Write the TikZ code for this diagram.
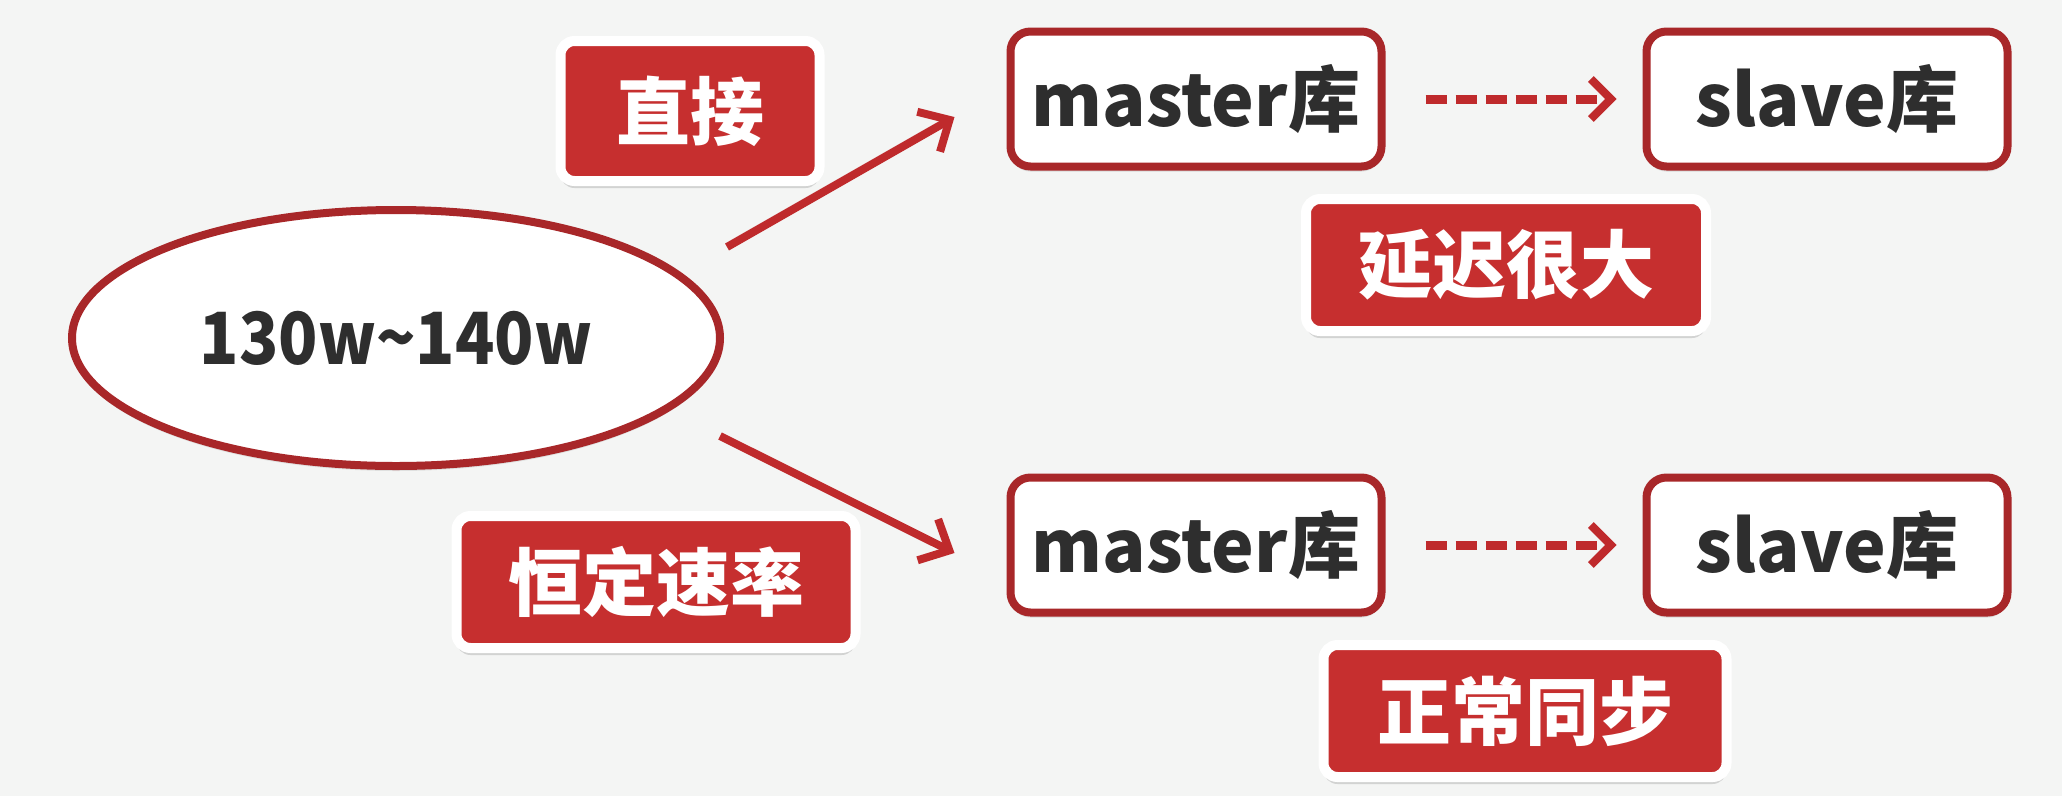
\documentclass[tikz,border=0pt]{standalone}
\usepackage{fontspec}
\usepackage{graphicx}
\setmainfont{Noto Sans CJK SC}
\usetikzlibrary{shapes.geometric,shadows,arrows.meta,calc}
\definecolor{bgc}{HTML}{F4F5F4}
\definecolor{boxred}{HTML}{A82729}
\definecolor{labred}{HTML}{C62F2F}
\definecolor{arrred}{HTML}{BF2A2C}
\definecolor{txt}{HTML}{2E2E2E}
\tikzset{
  dbbox/.style={draw=boxred, line width=8pt, fill=white, rounded corners=20pt,
    minimum width=371pt, minimum height=135pt, inner sep=0pt,
    font=\fontsize{72}{80}\selectfont\bfseries, text=txt,
    drop shadow={shadow xshift=0pt, shadow yshift=-5pt, fill=black!25}},
  labbox/.style={draw=white, line width=10pt, fill=labred, rounded corners=14pt,
    minimum height=132pt, inner sep=0pt,
    font=\fontsize{74}{80}\selectfont\bfseries, text=white,
    drop shadow={shadow xshift=0pt, shadow yshift=-7pt, fill=black!30}},
  solidarr/.style={draw=arrred, line width=8pt,
    -{Straight Barb[length=24pt,width=46pt,line width=8pt]}},
  dasharr/.style={draw=arrred, line width=9pt, dash pattern=on 21pt off 9pt,
    -{Straight Barb[length=20pt,width=40pt,line width=8pt]}},
}
\begin{document}
\begin{tikzpicture}[x=1pt,y=-1pt]
\useasboundingbox[fill=bgc] (0,0) rectangle (2062,796);
% central ellipse
\node[ellipse, draw=boxred, line width=8pt, fill=white, minimum width=648pt, minimum height=256pt,
  inner sep=0pt, font=\fontsize{72}{80}\selectfont\bfseries, text=txt,
  drop shadow={shadow xshift=0pt, shadow yshift=-5pt, fill=black!20}] (ell) at (396,338) {\scalebox{0.9}[1]{130w\char"007E 140w}};
% db boxes
\node[dbbox] (m1) at (1196,99) {master库};
\node[dbbox, minimum width=361pt] (s1) at (1827,99) {slave库};
\node[dbbox] (m2) at (1196,545) {master库};
\node[dbbox, minimum width=361pt] (s2) at (1827,545) {slave库};
% labels
\node[labbox, minimum width=259pt, minimum height=140pt] (l1) at (690,111) {直接};
\node[labbox, minimum width=399pt] (l2) at (656,582) {恒定速率};
\node[labbox, minimum width=400pt] (l3) at (1506,265) {延迟很大};
\node[labbox, minimum width=403pt] (l4) at (1525,711) {正常同步};
% arrows
\coordinate (a1s) at ($(ell.center)+(331,-91)$);
\coordinate (a1e) at ($(m1.west)+(-52,18)$);
\coordinate (a2s) at ($(ell.center)+(324,98)$);
\coordinate (a2e) at ($(m2.west)+(-52,8)$);
\draw[solidarr] (a1s) -- (a1e);
\draw[solidarr] (a2s) -- (a2e);
\draw[dasharr, shorten <=40pt, shorten >=26pt] (m1.east) -- (s1.west);
\draw[dasharr, shorten <=40pt, shorten >=26pt] (m2.east) -- (s2.west);
\end{tikzpicture}
\end{document}
